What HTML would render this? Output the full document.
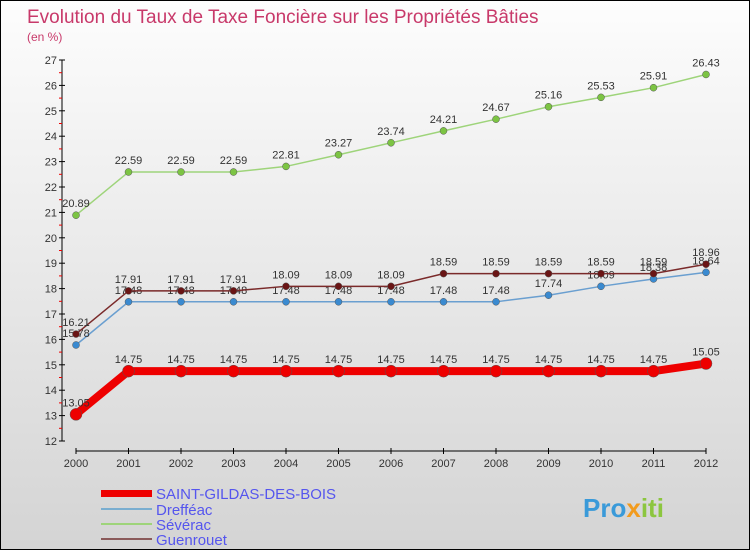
<!DOCTYPE html>
<html><head><meta charset="utf-8"><style>
body{margin:0}
#c{width:748px;height:548px;border:1px solid #000;background:linear-gradient(#fdfdfd,#d4d4d4);position:relative;font-family:"Liberation Sans",sans-serif}
svg text{font-family:"Liberation Sans",sans-serif}
</style></head><body>
<div id="c">
<svg id="s" width="748" height="548" xmlns="http://www.w3.org/2000/svg">
<text x="26" y="22" font-size="19" fill="#c8396a">Evolution du Taux de Taxe Foncière sur les Propriétés Bâties</text>
<text x="26" y="40" font-size="12" fill="#c8396a">(en %)</text>
<g id="ax"></g><g id="series"></g>
<g>
<rect x="100" y="489" width="51" height="7" fill="#e00"/>
<text x="155" y="498" font-size="15" fill="#5555ee">SAINT-GILDAS-DES-BOIS</text>
<rect x="100" y="507" width="51" height="2" fill="#7aaed0"/>
<text x="155" y="514" font-size="15" fill="#5555ee">Drefféac</text>
<rect x="100" y="522" width="51" height="2" fill="#9ed47a"/>
<text x="155" y="529" font-size="15" fill="#5555ee">Sévérac</text>
<rect x="100" y="537" width="51" height="2" fill="#8a5a5a"/>
<text x="155" y="544" font-size="15" fill="#5555ee">Guenrouet</text>
</g>
<text x="582" y="516" font-size="26" font-weight="bold" fill="#3a9ad9">Pro<tspan fill="#f29b1d">x</tspan><tspan fill="#8cc63f">iti</tspan></text>
</svg></div>
<script>
const years=[2000,2001,2002,2003,2004,2005,2006,2007,2008,2009,2010,2011,2012];
const yTicks=[12,13,14,15,16,17,18,19,20,21,22,23,24,25,26,27];
const saint=[13.05,14.75,14.75,14.75,14.75,14.75,14.75,14.75,14.75,14.75,14.75,14.75,15.05];
const dreff=[15.78,17.48,17.48,17.48,17.48,17.48,17.48,17.48,17.48,17.74,18.09,18.38,18.64];
const sever=[20.89,22.59,22.59,22.59,22.81,23.27,23.74,24.21,24.67,25.16,25.53,25.91,26.43];
const guen=[16.21,17.91,17.91,17.91,18.09,18.09,18.09,18.59,18.59,18.59,18.59,18.59,18.96];
const NS="http://www.w3.org/2000/svg";
const X=i=>75+i*52.5, Y=v=>440-(v-12)*25.4;
function el(t,a,p){const e=document.createElementNS(NS,t);for(const k in a)e.setAttribute(k,a[k]);p.appendChild(e);return e;}
const ax=document.getElementById('ax');
const ya=el('line',{x1:61,y1:59,x2:61,y2:440,stroke:'#000'},ax);


const xa=el('line',{x1:75,y1:450,x2:705,y2:450,stroke:'#000'},ax);


yTicks.forEach(v=>{
 el('line',{x1:58,x2:64,y1:Y(v),y2:Y(v),stroke:'#000'},ax);
 if(v<27)el('line',{x1:58,x2:61,y1:Y(v+0.5),y2:Y(v+0.5),stroke:'#e00'},ax);
 const t=el('text',{x:56,y:Y(v)+4,'font-size':11,'text-anchor':'end',fill:'#333'},ax);t.textContent=v;
 
 
});
years.forEach((y,i)=>{
 el('line',{x1:X(i),x2:X(i),y1:447,y2:453,stroke:'#000'},ax);
 const t=el('text',{x:X(i),y:466,'font-size':11,'text-anchor':'middle',fill:'#333'},ax);t.textContent=y;
 
 
});
const sg=document.getElementById('series');
function draw(data,name,color,fill,w,r){
 const g=el('g',{},sg);
 
 
 el('polyline',{points:data.map((v,i)=>X(i)+','+Y(v)).join(' '),fill:'none',stroke:color,'stroke-width':w},g);
 data.forEach((v,i)=>{
  const c=el('circle',{cx:X(i),cy:Y(v),r:r,fill:fill,stroke:'#555','stroke-width':0.5},g);
  
  
  const t=el('text',{x:X(i),y:Y(v)-8,'font-size':11,'text-anchor':'middle',fill:'#333'},g);
  t.textContent=v.toFixed(2).replace(/0$/,'').replace(/\.$/,'');
  
  
 });
}
draw(sever,'sévérac','#9ed47a','#7cc443',1.5,3.5);
draw(dreff,'drefféac','#6a9fd0','#3a8ad0',1.5,3.5);
draw(guen,'guenrouet','#7a2a2a','#6a1515',1.5,3.5);
draw(saint,'saint-gildas','#e00','#e00',8,6);
</script>
</body></html>
